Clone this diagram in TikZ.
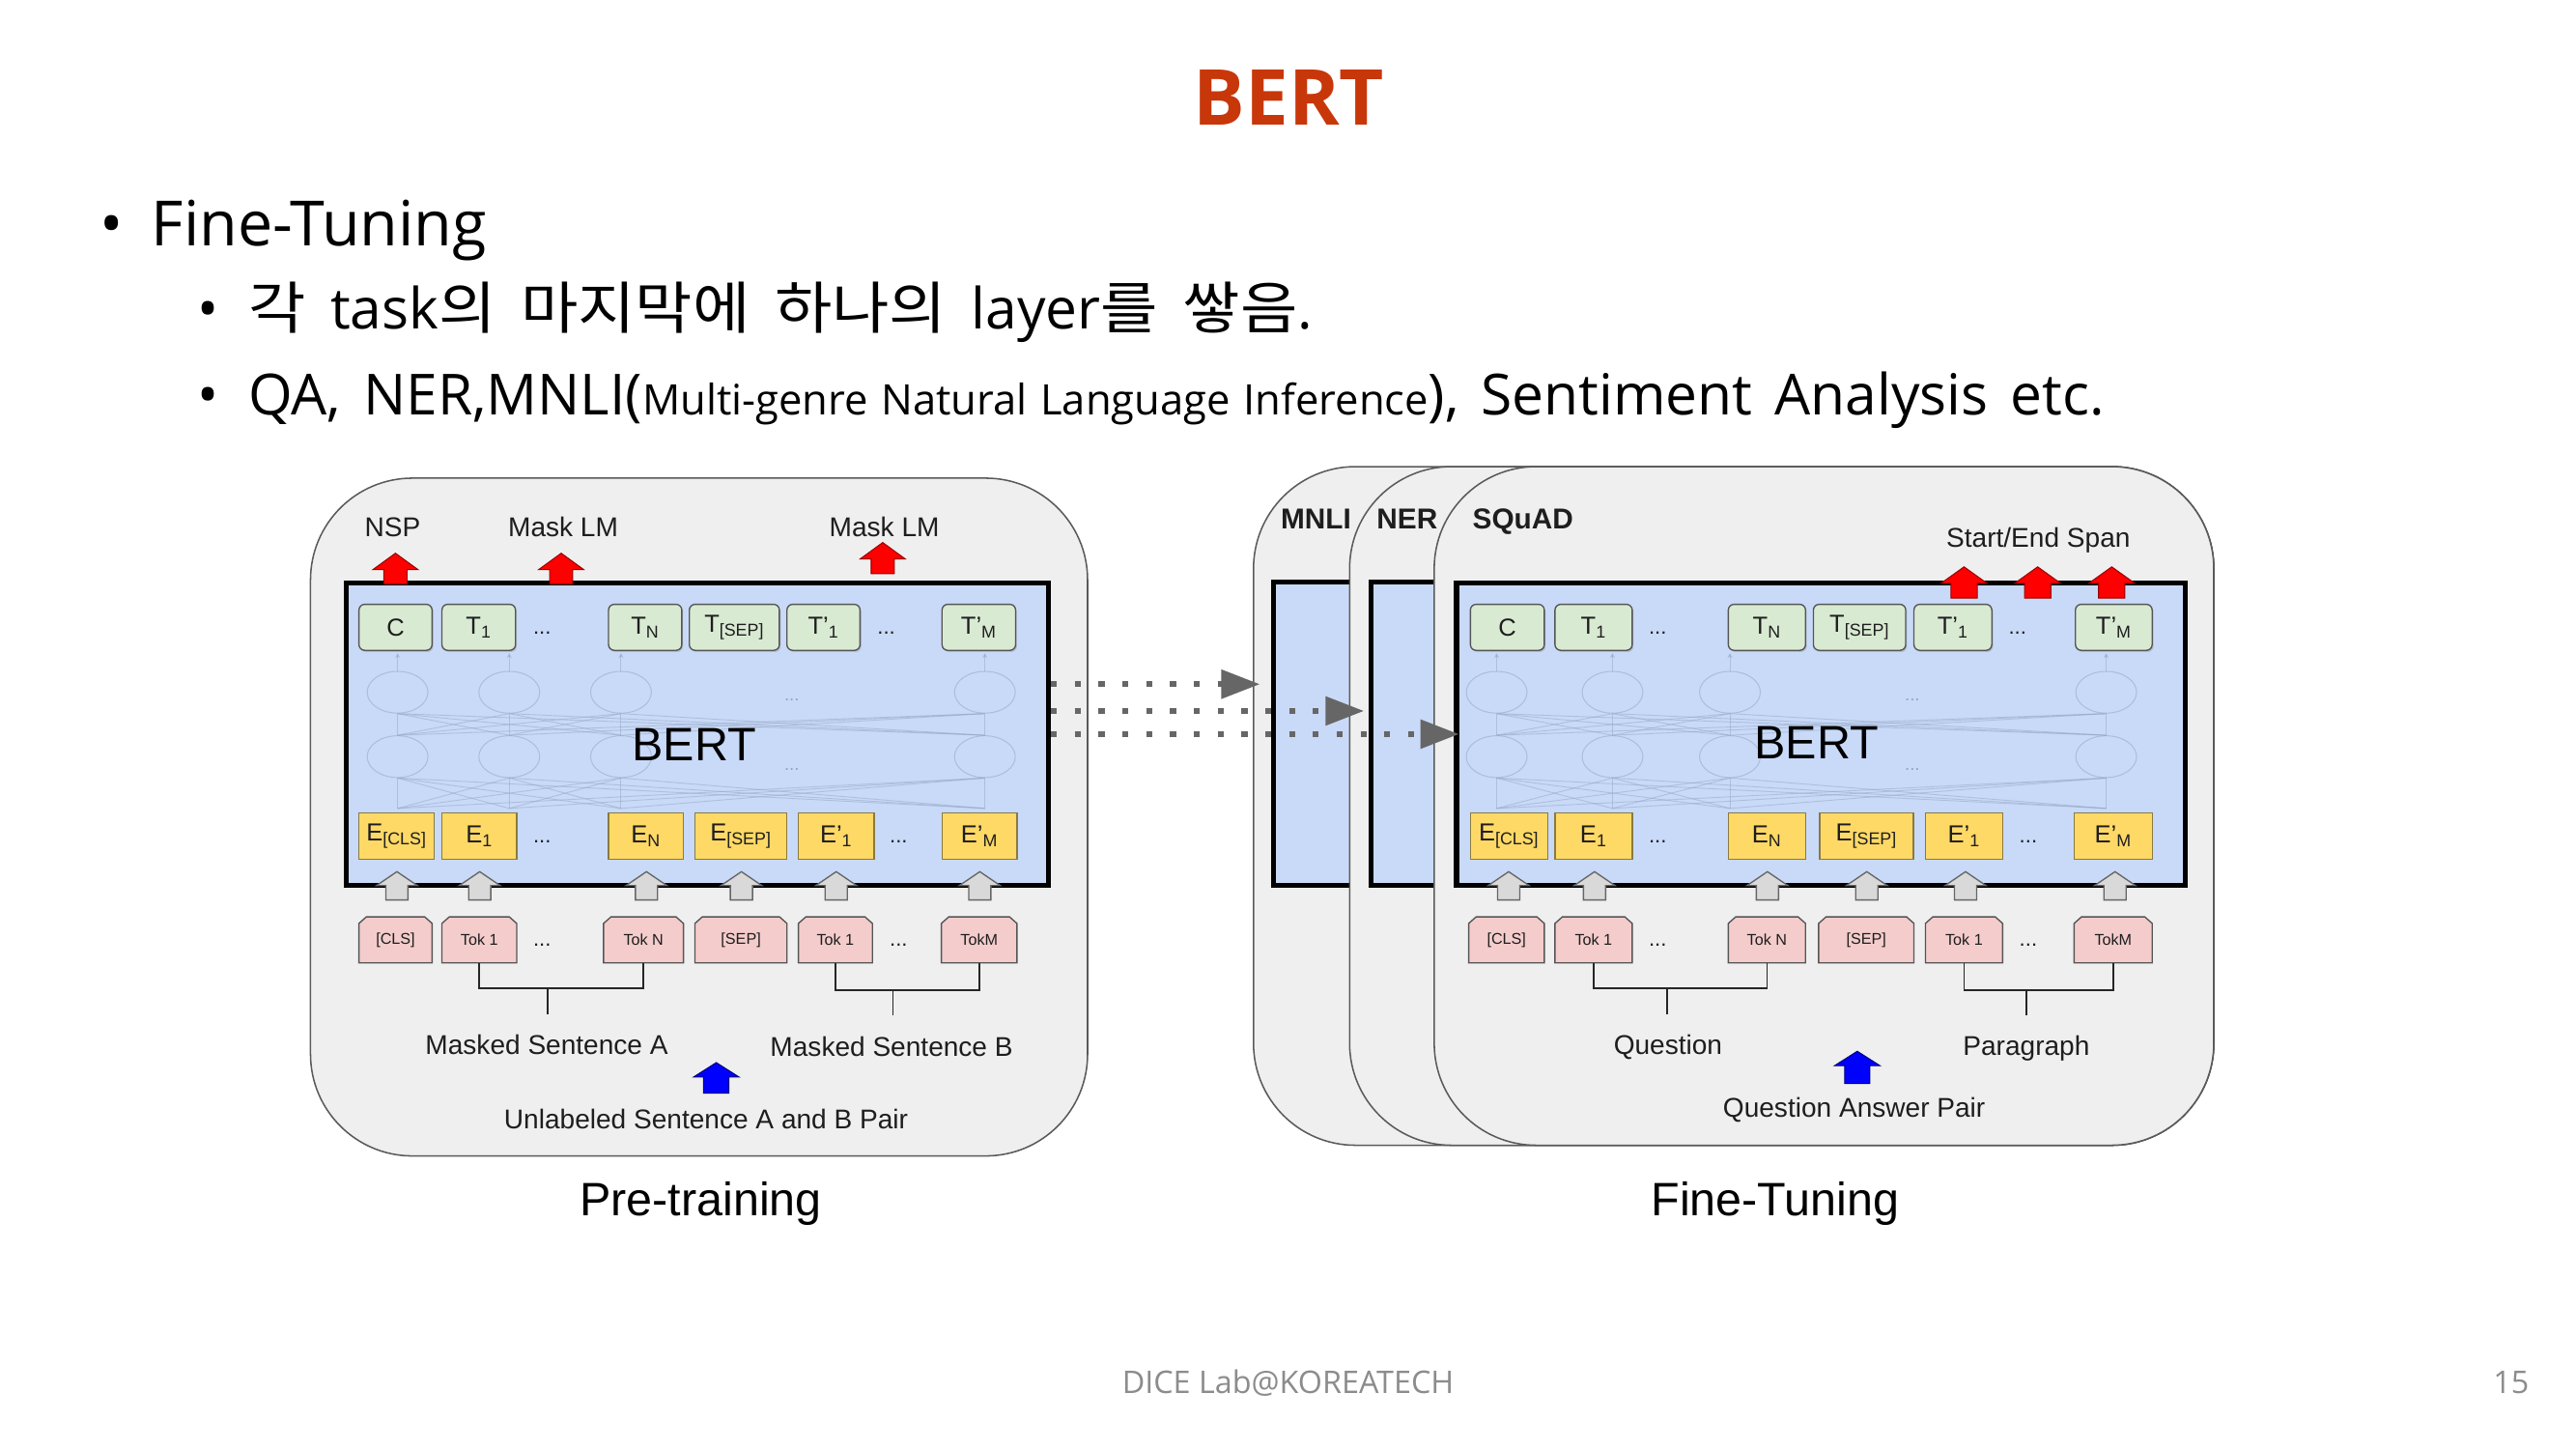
\documentclass[tikz,border=0pt]{standalone}
\usepackage{fontspec}
\setmainfont{Liberation Sans}
\newfontfamily\slide{Open Sans}
\newfontfamily\kr{Noto Sans CJK KR}[FakeStretch=1.1]
\usetikzlibrary{arrows.meta,shadows}

\definecolor{titlered}{RGB}{200,55,10}
\definecolor{panelbg}{HTML}{EFEFEF}
\definecolor{panelln}{HTML}{5A5A5A}
\definecolor{bertbg}{HTML}{C9DAF8}
\definecolor{tgreen}{HTML}{D9EAD3}
\definecolor{eyellow}{HTML}{FFD966}
\definecolor{eborder}{HTML}{8A7A40}
\definecolor{tokpink}{HTML}{F4CCCC}
\definecolor{boxln}{HTML}{555555}
\definecolor{arrgray}{HTML}{D9D9D9}
\definecolor{dotgray}{HTML}{666666}
\definecolor{footgray}{HTML}{8C8C8C}
\definecolor{netln}{HTML}{95A6C4}
\definecolor{txt}{HTML}{1E1E1E}

\newcommand\tsup[2]{#1\textsubscript{#2}}
\newcommand\gb[5]{\node[tbox, minimum width={#3-#2}] (#1) at ({(#2+#3)/2},#4) {#5};}
\newcommand\eb[5]{\node[ebox, minimum width={#3-#2}] (#1) at ({(#2+#3)/2},#4) {#5};}
\newcommand\tk[5]{%
  \draw[tokshape] (#2,#4+14) -- (#2,#4-10) -- (#2+4.5,#4-14) -- (#3-4.5,#4-14) -- (#3,#4-10) -- (#3,#4+14) -- cycle;
  \node[toktext, minimum width={#3-#2}] (#1) at ({(#2+#3)/2},#4) {#5};}
% style, cx, tip y, base y, head width, shaft width, head height
\newcommand\blockup[7]{%
  \draw[#1] ({#2-#6/2},#4) -- ({#2-#6/2},{#3+#7}) -- ({#2-#5/2},{#3+#7}) -- (#2,#3)
   -- ({#2+#5/2},{#3+#7}) -- ({#2+#6/2},{#3+#7}) -- ({#2+#6/2},#4) -- cycle;}
\newcommand\netw[3]{%
  \foreach \a in {#1} {
    \draw[netc] (\a,421.3) ellipse [x radius=18.5, y radius=12.7];
    \draw[netc] (\a,460.5) ellipse [x radius=18.5, y radius=12.7];
    \draw[netl,-{Stealth[length=3pt,width=3pt]}] (\a,408.6) -- (\a,397.5);
    \foreach \b in {#1} {
      \draw[netl] (\a,492) -- (\b,473.5);
      \draw[netl] (\a,447.5) -- (\b,434.3);
    }
  }
  \node[netdots] (#3a) at (#2,426) {...};
  \node[netdots] (#3b) at (#2,468) {...};
}

\begin{document}
\begin{tikzpicture}[x=1pt,y=-1pt,
  panel/.style={draw=panelln, fill=panelbg, line width=0.9, rounded corners=62, inner sep=0},
  bertbox/.style={draw=black, fill=bertbg, line width=3, inner sep=0},
  tbox/.style={draw=boxln, fill=tgreen, line width=0.8, rounded corners=3.5, minimum height=28, inner sep=0,
    drop shadow={shadow xshift=0.8pt, shadow yshift=-1pt, opacity=0.35}, text=txt, font=\fontsize{15}{17}\selectfont},
  ebox/.style={draw=eborder, fill=eyellow, line width=0.8, minimum height=28, inner sep=0, text=txt, font=\fontsize{15}{17}\selectfont},
  tokshape/.style={draw=boxln, fill=tokpink, line width=0.8},
  toktext/.style={minimum height=28, inner sep=0, text=txt, font=\fontsize{9.5}{11}\selectfont},
  dots/.style={inner sep=0, text=txt, font=\fontsize{13}{15}\selectfont},
  netc/.style={draw=netln, line width=0.6, opacity=0.55},
  netl/.style={draw=netln, line width=0.55, opacity=0.5},
  netdots/.style={inner sep=0, text=netln, font=\fontsize{11}{13}\selectfont},
  lbl/.style={inner sep=0, anchor=base, text=txt, font=\fontsize{16.5}{19}\selectfont},
  tasklbl/.style={inner sep=0, anchor=base, text=txt, font=\fontsize{17.5}{20}\selectfont\bfseries},
  bertlbl/.style={inner sep=0, text=black, font=\fontsize{28.5}{32}\selectfont},
  caption/.style={inner sep=0, anchor=base, text=black, font=\fontsize{28.5}{32}\selectfont},
  redarr/.style={fill=red, draw=red!60!black, line width=0.6},
  grayarr/.style={fill=arrgray, draw=dotgray, line width=0.8},
  bluearr/.style={fill=blue, draw=blue!50!black, line width=0.6},
  bracket/.style={draw=black!85, line width=0.9},
  dotarr/.style={draw=dotgray, line width=3.6, dash pattern=on 3.6pt off 10.9pt,
    -{Triangle[length=23.5pt,width=17pt]}},
  slidetxt/.style={inner sep=0, anchor=base west, text=black}
]
\useasboundingbox[fill=white] (0,0) rectangle (1568,882);

% ---------- slide text ----------
\node[inner sep=0, anchor=base] (title) at (784.5,76.4)
  {\fontsize{47}{50}\selectfont\slide\bfseries\color{titlered}BERT};
\node[inner sep=0, anchor=base] (b1) at (68,149.5) {\fontsize{38}{44}\selectfont\slide •};
\node[slidetxt] (l1) at (92,149.5) {\fontsize{38}{44}\selectfont\slide Fine-Tuning};
\node[inner sep=0, anchor=base] (b2) at (127,200) {\fontsize{34.5}{40}\selectfont\slide •};
\node[slidetxt] (l2) at (151,200)
  {\fontsize{34.5}{40}\selectfont\slide\spaceskip=15pt {\kr 각} task{\kr 의 마지막에 하나의} layer{\kr 를 쌓음}.};
\node[inner sep=0, anchor=base] (b3) at (127,252.8) {\fontsize{34.5}{40}\selectfont\slide •};
\node[slidetxt] (l3) at (151,252.8)
  {\fontsize{34.5}{40}\selectfont\slide\spaceskip=13.5pt QA, NER,MNLI({\fontsize{25.6}{30}\selectfont\spaceskip=8pt Multi-genre Natural Language Inference}), Sentiment Analysis etc.};
\node[inner sep=0, anchor=base] (foot) at (784,848)
  {\fontsize{19}{22}\selectfont\slide\color{footgray}DICE Lab@KOREATECH};
\node[inner sep=0, anchor=base] (pnum) at (1528.5,848)
  {\fontsize{19}{22}\selectfont\slide\color{footgray}15};

% ---------- Pre-training ----------
\node[panel, minimum width=473, minimum height=412.5] (prePanel) at (425.5,497.25) {};
\node[bertbox, minimum width=427.4, minimum height=184.3] (preBox) at (424.5,446.85) {};
\netw{242,310,378,599.5}{482}{preNet}
\node[bertlbl] (preBERT) at (422.5,453) {BERT};

\gb{pT0}{218.5}{263}{381.8}{C}
\gb{pT1}{269}{313.8}{381.8}{T\textsubscript{1}}
\node[dots] (pTd1) at (330,385) {...};
\gb{pTN}{370.4}{415}{381.8}{T\textsubscript{N}}
\gb{pTS}{419.6}{474.4}{381.8}{T\textsubscript{[SEP]}}
\gb{pTp1}{479}{523.5}{381.8}{T\tsup{’}{1}}
\node[dots] (pTd2) at (539.5,385) {...};
\gb{pTpM}{573.4}{618.2}{381.8}{T\tsup{’}{M}}

\eb{pE0}{218.5}{264.3}{508.8}{E\textsubscript{[CLS]}}
\eb{pE1}{269}{314.5}{508.8}{E\textsubscript{1}}
\node[dots] (pEd1) at (330,512) {...};
\eb{pEN}{370.4}{416}{508.8}{E\textsubscript{N}}
\eb{pES}{423}{479}{508.8}{E\textsubscript{[SEP]}}
\eb{pEp1}{486}{532}{508.8}{E\tsup{’}{1}}
\node[dots] (pEd2) at (547,512) {...};
\eb{pEpM}{573.4}{619}{508.8}{E\tsup{’}{M}}

\blockup{redarr}{240.7}{336.7}{355.5}{27.5}{14}{10}
\blockup{redarr}{341.6}{336.7}{355.5}{27.5}{14}{10}
\blockup{redarr}{537.3}{330.2}{349.2}{27.5}{14}{10}
\node[lbl] (nsp) at (239,326.3) {NSP};
\node[lbl] (mlm1) at (342.8,326.3) {Mask LM};
\node[lbl] (mlm2) at (538.3,326.3) {Mask LM};

\foreach \x in {241.6,292,393.5,451.3,509,596.4} {\blockup{grayarr}{\x}{530.5}{547.7}{25}{13.5}{8.5}}

\tk{pK0}{218.5}{263}{572}{[CLS]}
\tk{pK1}{269}{314.5}{572}{Tok 1}
\node[dots] (pKd1) at (330,575) {...};
\tk{pKN}{367.4}{416}{572}{Tok N}
\tk{pKS}{423}{479}{572}{[SEP]}
\tk{pKp1}{486}{531}{572}{Tok 1}
\node[dots] (pKd2) at (547,575) {...};
\tk{pKpM}{573}{619}{572}{TokM}

\coordinate (pbA) at (333.5,601.6);
\coordinate (pbAe) at (333.5,617.3);
\draw[bracket] (pK1.south) |- (pbA) -| (pKN.south);
\draw[bracket] (pbA) -- (pbAe);
\coordinate (pbB) at (543.5,602.6);
\coordinate (pbBe) at (543.5,618);
\draw[bracket] (pKp1.south) |- (pbB) -| (pKpM.south);
\draw[bracket] (pbB) -- (pbBe);

\node[lbl] (msA) at (332.8,641.9) {Masked Sentence A};
\node[lbl] (msB) at (542.7,642.7) {Masked Sentence B};
\blockup{bluearr}{436}{646.7}{665.3}{27.7}{15.4}{8.8}
\node[lbl] (unl) at (429.8,686.7) {Unlabeled Sentence A and B Pair};
\node[caption] (capPre) at (426.5,740) {Pre-training};

% ---------- Fine-Tuning ----------
\node[panel, minimum width=584.5, minimum height=413] (mnliPanel) at (1055.25,490.5) {};
\node[bertbox, minimum width=80, minimum height=184.6] (mnliBox) at (815.4,446.6) {};
\node[panel, minimum width=526, minimum height=413] (nerPanel) at (1084.5,490.5) {};
\node[bertbox, minimum width=80, minimum height=184.6] (nerBox) at (874.8,446.6) {};
\node[panel, minimum width=474.5, minimum height=413] (sqPanel) at (1110.25,490.5) {};
\node[bertbox, minimum width=443.4, minimum height=184] (sqBox) at (1108.3,447) {};
\netw{911,981.5,1053,1282}{1164}{ftNet}
\node[bertlbl] (ftBERT) at (1105.7,452) {BERT};

\node[tasklbl] (mnliLbl) at (801,321.8) {MNLI};
\node[tasklbl] (nerLbl) at (856.5,321.8) {NER};
\node[tasklbl] (sqLbl) at (927,321.8) {SQuAD};
\node[lbl] (span) at (1240.7,333.2) {Start/End Span};

\gb{fT0}{895}{940}{381.8}{C}
\gb{fT1}{946.5}{993.5}{381.8}{T\textsubscript{1}}
\node[dots] (fTd1) at (1009,385) {...};
\gb{fTN}{1052}{1099}{381.8}{T\textsubscript{N}}
\gb{fTS}{1103.8}{1160}{381.8}{T\textsubscript{[SEP]}}
\gb{fTp1}{1165}{1212.4}{381.8}{T\tsup{’}{1}}
\node[dots] (fTd2) at (1228,385) {...};
\gb{fTpM}{1263.3}{1310}{381.8}{T\tsup{’}{M}}

\eb{fE0}{895}{942}{508.8}{E\textsubscript{[CLS]}}
\eb{fE1}{946.5}{993.5}{508.8}{E\textsubscript{1}}
\node[dots] (fEd1) at (1009,512) {...};
\eb{fEN}{1052}{1099}{508.8}{E\textsubscript{N}}
\eb{fES}{1107.6}{1164.6}{508.8}{E\textsubscript{[SEP]}}
\eb{fEp1}{1172}{1219}{508.8}{E\tsup{’}{1}}
\node[dots] (fEd2) at (1234.6,512) {...};
\eb{fEpM}{1262.5}{1310}{508.8}{E\tsup{’}{M}}

\foreach \x in {1195.5,1240.3,1285.4} {\blockup{redarr}{\x}{345}{364}{28}{16}{10}}
\foreach \x in {918.3,970.6,1075.8,1136.3,1196.4,1287.4} {\blockup{grayarr}{\x}{530.5}{547.7}{25}{13.5}{8.5}}

\tk{fK0}{894}{940}{572}{[CLS]}
\tk{fK1}{946.5}{993.5}{572}{Tok 1}
\node[dots] (fKd1) at (1009,575) {...};
\tk{fKN}{1052}{1099}{572}{Tok N}
\tk{fKS}{1107}{1165}{572}{[SEP]}
\tk{fKp1}{1172}{1219}{572}{Tok 1}
\node[dots] (fKd2) at (1234.6,575) {...};
\tk{fKpM}{1262.5}{1310}{572}{TokM}

\coordinate (fbA) at (1014.6,601.6);
\coordinate (fbAe) at (1014.6,617.3);
\draw[bracket] (fK1.south) |- (fbA) -| (fKN.south);
\draw[bracket] (fbA) -- (fbAe);
\coordinate (fbB) at (1233.4,602.6);
\coordinate (fbBe) at (1233.4,618);
\draw[bracket] (fKp1.south) |- (fbB) -| (fKpM.south);
\draw[bracket] (fbB) -- (fbBe);

\node[lbl] (qLbl) at (1015.3,641.9) {Question};
\node[lbl] (pLbl) at (1233.4,642.5) {Paragraph};
\blockup{bluearr}{1130.5}{639.8}{659.4}{27.7}{15.4}{8.8}
\node[lbl] (qap) at (1128.6,680) {Question Answer Pair};
\node[caption] (capFt) at (1080.5,740) {Fine-Tuning};

% ---------- transfer arrows ----------
\draw[dotarr, shorten >=7pt] (preBox.east |- 0,416.4) -- (mnliBox.west |- 0,416.4);
\draw[dotarr, shorten >=3pt] (preBox.east |- 0,432.7) -- (nerBox.west |- 0,432.7);
\draw[dotarr, shorten >=-3pt] (preBox.east |- 0,446.8) -- (sqBox.west |- 0,446.8);
\end{tikzpicture}
\end{document}
